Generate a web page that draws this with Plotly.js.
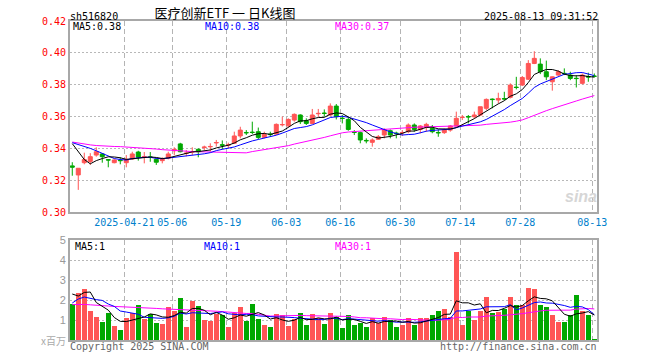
<!DOCTYPE html>
<html><head><meta charset="utf-8">
<script src="https://cdn.plot.ly/plotly-3.0.1.min.js"></script>
<style>html,body{margin:0;padding:0;background:#fff}#chart{width:660px;height:360px}</style>
</head><body><div id="chart"></div>
<script>
const dates = ['2025-04-08','2025-04-09','2025-04-10','2025-04-11','2025-04-14','2025-04-15','2025-04-16','2025-04-17','2025-04-18','2025-04-21','2025-04-22','2025-04-23','2025-04-24','2025-04-25','2025-04-28','2025-04-29','2025-04-30',
'2025-05-06','2025-05-07','2025-05-08','2025-05-09','2025-05-12','2025-05-13','2025-05-14','2025-05-15','2025-05-16','2025-05-19','2025-05-20','2025-05-21','2025-05-22','2025-05-23','2025-05-26','2025-05-27','2025-05-28','2025-05-29','2025-05-30',
'2025-06-03','2025-06-04','2025-06-05','2025-06-06','2025-06-09','2025-06-10','2025-06-11','2025-06-12','2025-06-13','2025-06-16','2025-06-17','2025-06-18','2025-06-19','2025-06-20','2025-06-23','2025-06-24','2025-06-25','2025-06-26','2025-06-27','2025-06-30',
'2025-07-01','2025-07-02','2025-07-03','2025-07-04','2025-07-07','2025-07-08','2025-07-09','2025-07-10','2025-07-11','2025-07-14','2025-07-15','2025-07-16','2025-07-17','2025-07-18','2025-07-21','2025-07-22','2025-07-23','2025-07-24','2025-07-25','2025-07-28','2025-07-29','2025-07-30','2025-07-31',
'2025-08-01','2025-08-04','2025-08-05','2025-08-06','2025-08-07','2025-08-08','2025-08-11','2025-08-12','2025-08-13'];

const openP = [.3290,.3233,.3310,.3318,.3358,.3365,.3329,.3310,.3325,.3310,
 .3333,.3377,.3344,.3346,.3331,.3323,.3338,.3385,.3428,.3368,
 .3377,.3394,.3405,.3410,.3434,.3423,.3420,.3432,.3478,.3500,
 .3502,.3505,.3469,.3490,.3490,.3548,.3542,.3578,.3610,.3574,
 .3557,.3618,.3622,.3610,.3666,.3590,.3582,.3502,.3499,.3450,
 .3438,.3457,.3484,.3511,.3496,.3498,.3505,.3547,.3519,.3532,
 .3526,.3500,.3499,.3515,.3541,.3594,.3600,.3599,.3610,.3652,
 .3710,.3704,.3713,.3721,.3785,.3798,.3835,.3934,.3930,.3882,
 .3819,.3861,.3872,.3861,.3841,.3809,.3851,.3855];
const highP = [.3313,.3275,.3373,.3370,.3407,.3370,.3333,.3331,.3344,.3358,
 .3379,.3385,.3377,.3377,.3338,.3344,.3379,.3407,.3435,.3390,
 .3407,.3400,.3417,.3432,.3453,.3450,.3436,.3505,.3536,.3515,
 .3568,.3531,.3505,.3505,.3557,.3600,.3589,.3620,.3614,.3589,
 .3648,.3648,.3645,.3683,.3679,.3610,.3599,.3515,.3505,.3463,
 .3463,.3484,.3526,.3519,.3505,.3515,.3557,.3557,.3547,.3561,
 .3547,.3519,.3526,.3547,.3631,.3610,.3610,.3631,.3662,.3714,
 .3714,.3750,.3756,.3809,.3850,.3855,.3955,.4011,.3966,.3952,
 .3852,.3892,.3903,.3882,.3861,.3871,.3876,.3871];
const lowP = [.3228,.3139,.3300,.3296,.3348,.3310,.3281,.3306,.3300,.3281,
 .3327,.3323,.3306,.3316,.3296,.3306,.3331,.3358,.3375,.3350,
 .3358,.3344,.3390,.3379,.3411,.3394,.3400,.3428,.3463,.3484,
 .3490,.3457,.3463,.3473,.3484,.3538,.3531,.3568,.3553,.3547,
 .3553,.3599,.3599,.3603,.3582,.3557,.3511,.3484,.3432,.3432,
 .3411,.3453,.3463,.3463,.3463,.3478,.3495,.3505,.3495,.3505,
 .3495,.3473,.3491,.3505,.3532,.3578,.3557,.3589,.3604,.3641,
 .3652,.3683,.3704,.3714,.3771,.3792,.3830,.3930,.3867,.3829,
 .3763,.3857,.3861,.3829,.3783,.3802,.3819,.3846];
const closeP = [.3282,.3275,.3330,.3348,.3379,.3348,.3327,.3327,.3323,.3331,
 .3365,.3344,.3348,.3344,.3313,.3331,.3365,.3394,.3379,.3370,
 .3380,.3379,.3408,.3412,.3437,.3420,.3422,.3478,.3515,.3498,
 .3500,.3469,.3488,.3487,.3551,.3550,.3582,.3614,.3568,.3557,
 .3610,.3620,.3620,.3666,.3599,.3588,.3519,.3500,.3453,.3448,
 .3453,.3473,.3519,.3484,.3494,.3500,.3547,.3519,.3541,.3551,
 .3505,.3498,.3515,.3541,.3589,.3596,.3598,.3610,.3662,.3708,
 .3707,.3714,.3711,.3798,.3783,.3846,.3934,.3966,.3882,.3850,
 .3850,.3882,.3870,.3840,.3839,.3861,.3849,.3853];

const ma5 = [.3430,.3380,.3330,.3303,.3323,.3336,.3347,.3346,.3341,.3331,.3335,.3338,.3342,.3346,.3343,.3336,.3340,.3349,.3356,.3368,.3378,.3380,.3383,.3390,.3403,.3411,.3420,.3434,.3454,.3467,.3483,.3492,.3494,.3488,.3499,.3509,.3532,.3557,.3573,.3574,.3586,.3594,.3595,.3615,.3623,.3619,.3598,.3574,.3532,.3502,.3475,.3465,.3469,.3475,.3485,.3494,.3509,.3509,.3520,.3532,.3533,.3523,.3522,.3522,.3530,.3548,.3568,.3587,.3611,.3635,.3657,.3680,.3700,.3728,.3743,.3770,.3814,.3865,.3882,.3896,.3896,.3886,.3867,.3858,.3856,.3858,.3852,.3848];
const ma10 = [.3436,.3425,.3412,.3400,.3385,.3368,.3350,.3336,.3330,.3327,.3336,.3342,.3344,.3344,.3337,.3335,.3339,.3346,.3351,.3355,.3357,.3360,.3366,.3373,.3386,.3394,.3400,.3409,.3422,.3435,.3447,.3456,.3464,.3471,.3483,.3496,.3512,.3525,.3531,.3537,.3548,.3563,.3576,.3594,.3599,.3602,.3596,.3585,.3573,.3562,.3547,.3532,.3522,.3504,.3493,.3484,.3487,.3489,.3498,.3508,.3513,.3516,.3515,.3521,.3531,.3540,.3545,.3554,.3567,.3582,.3602,.3624,.3644,.3669,.3689,.3714,.3747,.3783,.3805,.3819,.3833,.3850,.3866,.3870,.3876,.3877,.3869,.3858];
const ma30 = [.3440,.3433,.3427,.3422,.3418,.3415,.3413,.3412,.3411,.3409,.3408,.3406,.3404,.3400,.3396,.3392,.3389,.3386,.3384,.3382,.3380,.3379,.3378,.3377,.3376,.3375,.3374,.3373,.3372,
 .3372,.3380,.3386,.3392,.3396,.3402,.3409,.3417,.3427,.3435,.3442,.3450,.3460,.3469,.3479,.3489,.3498,.3503,.3506,.3509,.3511,.3514,.3517,.3521,.3523,.3525,.3528,.3532,.3533,.3534,.3536,.3536,.3537,.3538,.3540,.3541,.3542,.3543,.3543,.3546,.3551,.3554,.3557,.3560,.3565,.3571,.3579,.3593,.3609,.3623,.3637,.3650,.3663,.3675,.3687,.3698,.3710,.3721,.3732];

const volume = [1.80,2.37,2.57,1.47,1.17,0.90,1.37,0.72,0.50,1.12,
 1.33,1.75,1.05,1.28,0.87,0.82,1.67,1.47,2.10,0.67,
 1.97,1.70,1.00,0.97,1.28,1.27,0.67,1.37,1.67,0.97,
 1.80,1.05,0.77,0.65,1.30,1.25,0.70,1.05,1.35,0.75,
 1.30,1.08,0.80,1.35,1.17,0.62,1.25,0.75,0.87,0.65,
 1.08,0.87,1.15,1.00,0.65,0.75,1.08,0.75,1.08,1.08,
 1.25,1.45,1.55,1.15,4.40,0.75,1.45,1.00,1.45,2.15,
 1.35,1.42,1.55,2.15,1.75,1.75,2.60,2.55,1.75,1.65,
 1.25,0.90,0.90,1.25,2.25,1.45,1.25,0.05];
const volMa5 = [2.30,2.20,2.38,2.40,1.876,1.696,1.496,1.126,0.932,0.922,1.008,1.084,1.15,1.306,1.256,1.154,1.138,1.222,1.386,1.346,1.576,1.582,1.488,1.262,1.384,1.244,1.038,1.112,1.252,1.19,1.296,1.372,1.252,1.048,1.114,1.004,0.934,0.99,1.13,1.02,1.03,1.106,1.056,1.056,1.14,1.004,1.038,1.028,0.932,0.828,0.92,0.844,0.924,0.95,0.95,0.884,0.926,0.846,0.862,0.948,1.048,1.122,1.282,1.296,1.96,1.86,1.86,1.75,1.81,1.36,1.48,1.474,1.584,1.724,1.644,1.724,1.96,2.16,2.08,2.06,1.96,1.62,1.29,1.19,1.31,1.35,1.42,1.25];
const volMa10 = [1.85,2.05,2.15,2.08,2.02,1.98,1.80,1.68,1.45,1.399,1.352,1.29,1.138,1.119,1.089,1.081,1.111,1.186,1.346,1.301,1.365,1.36,1.355,1.324,1.365,1.41,1.31,1.30,1.257,1.287,1.27,1.205,1.182,1.15,1.152,1.15,1.153,1.121,1.089,1.067,1.017,1.02,1.023,1.093,1.08,1.017,1.072,1.042,0.994,0.984,0.962,0.941,0.976,0.941,0.889,0.902,0.885,0.885,0.906,0.949,0.966,1.024,1.064,1.079,1.454,1.454,1.491,1.516,1.553,1.66,1.67,1.667,1.667,1.767,1.502,1.602,1.717,1.872,1.902,1.852,1.842,1.79,1.725,1.635,1.685,1.655,1.52,1.27];
const volMa30 = [1.77,1.78,1.78,1.76,1.73,1.71,1.70,1.68,1.67,1.66,1.64,1.62,1.61,1.60,1.58,1.56,1.55,1.54,1.53,1.52,1.51,1.48,1.47,1.46,1.44,1.42,1.39,1.37,1.35,
 1.329,1.329,1.285,1.225,1.198,1.202,1.214,1.191,1.202,1.231,1.218,1.217,1.195,1.187,1.189,1.199,1.192,1.178,1.154,1.113,1.113,1.083,1.055,1.060,1.061,1.040,1.023,1.037,1.016,0.996,1.000,0.982,0.995,1.021,1.038,1.141,1.124,1.149,1.148,1.151,1.198,1.199,1.211,1.236,1.262,1.282,1.319,1.364,1.424,1.454,1.487,1.493,1.494,1.485,1.494,1.547,1.570,1.576,1.553];

const tickDates = ['2025-04-21','2025-05-06','2025-05-19','2025-06-03','2025-06-16','2025-06-30','2025-07-14','2025-07-28','2025-08-13'];
const tickLabels = ['2025-04-21','05-06','05-19','06-03','06-16','06-30','07-14','07-28','08-13'];
const priceTicks = [0.30,0.32,0.34,0.36,0.38,0.40,0.42];
const volTicks = [1,2,3,4,5];
const priceMaLabels = ['MA5:0.38','MA10:0.38','MA30:0.37'];
const volMaLabels = ['MA5:1','MA10:1','MA30:1'];

const UP = '#ff5555', DOWN = '#00a800';
const x = dates.map((d, i) => i);
const tickvals = tickDates.map(d => dates.indexOf(d) - 0.33);
const volColors = closeP.map((c, i) => c >= openP[i] ? UP : DOWN);

const L = 70, R = 597, T = 21, B = 340;
const W = R - L, H = B - T;
const px = v => (v - L) / W;
const py = v => (B - v) / H;
const MONO = 'DejaVu Sans Mono';

const traces = [
  {type:'candlestick', x:x, open:openP, high:highP, low:lowP, close:closeP, xaxis:'x', yaxis:'y',
   increasing:{line:{color:UP, width:1}, fillcolor:UP},
   decreasing:{line:{color:DOWN, width:1}, fillcolor:DOWN},
   whiskerwidth:0, hoverinfo:'skip'},
  {type:'scatter', mode:'lines', x:x, y:ma30, xaxis:'x', yaxis:'y', line:{color:'#ff00ff', width:1}},
  {type:'scatter', mode:'lines', x:x, y:ma10, xaxis:'x', yaxis:'y', line:{color:'#0000ff', width:1}},
  {type:'scatter', mode:'lines', x:x, y:ma5, xaxis:'x', yaxis:'y', line:{color:'#000000', width:1}},
  {type:'bar', x:x, y:volume, xaxis:'x2', yaxis:'y2', width:0.83, marker:{color:volColors, line:{width:0}}},
  {type:'scatter', mode:'lines', x:x, y:volMa30, xaxis:'x2', yaxis:'y2', line:{color:'#ff00ff', width:1}},
  {type:'scatter', mode:'lines', x:x, y:volMa10, xaxis:'x2', yaxis:'y2', line:{color:'#0000ff', width:1}},
  {type:'scatter', mode:'lines', x:x, y:volMa5, xaxis:'x2', yaxis:'y2', line:{color:'#000000', width:1}}
];

const xRange = [-0.38, 87.45];
const commonX = {type:'linear', range:xRange, tickmode:'array', tickvals:tickvals, showgrid:true,
  gridcolor:'#b4b4b4', gridwidth:1, griddash:'5px,3px', showline:true, mirror:true,
  linecolor:'#a8a8a8', linewidth:2, ticks:'', zeroline:false, fixedrange:true};
const commonY = {type:'linear', tickmode:'array', showgrid:true, gridcolor:'#b8b8b8', gridwidth:1,
  griddash:'2px,2px', showline:true, mirror:true, linecolor:'#a8a8a8', linewidth:2, ticks:'',
  zeroline:false, fixedrange:true};

const ann = (text, xp, yp, xanchor, color, font, size) => ({
  text:text, x:px(xp), y:py(yp), xref:'paper', yref:'paper', xanchor:xanchor, yanchor:'middle',
  showarrow:false, font:{family:font || MONO, size:size || 10, color:color}
});

const layout = {
  width:660, height:360,
  margin:{l:70, r:63, t:21, b:20, pad:0},
  paper_bgcolor:'#ffffff', plot_bgcolor:'#ffffff',
  showlegend:false, hovermode:false, dragmode:false,
  boxgap:0.2, boxgroupgap:0.17, bargap:0,
  title:{text:'医疗创新ETF 一 日K线图', xref:'container', yref:'container', x:225/660, xanchor:'center',
    y:1 - 13.5/360, yanchor:'middle', font:{family:'Noto Sans CJK SC', size:13, color:'#000000'}},
  xaxis:Object.assign({}, commonX, {domain:[0,1], anchor:'y', rangeslider:{visible:false},
    ticktext:tickLabels, showticklabels:true, tickfont:{family:MONO, size:10, color:'#0080cc'}}),
  xaxis2:Object.assign({}, commonX, {domain:[0,1], anchor:'y2', showticklabels:false}),
  yaxis:Object.assign({}, commonY, {domain:[(B - 212) / H, 1], anchor:'x', range:[0.30, 0.4201],
    tickvals:priceTicks, ticktext:priceTicks.map(v => v.toFixed(2)),
    tickfont:{family:MONO, size:10, color:'#ff0000'}}),
  yaxis2:Object.assign({}, commonY, {domain:[0, (B - 240) / H], anchor:'x2', range:[0, 5.003],
    tickvals:volTicks, ticktext:volTicks.map(String),
    tickfont:{family:'Liberation Sans', size:11, color:'#999999'}}),
  annotations:[
    ann('<b><i>sina</i></b>', 581, 196, 'center', '#d6d6d6', 'Liberation Sans', 16),
    ann('sh516820', 68, 17, 'left', '#000000'),
    ann('2025-08-13 09:31:52', 600, 17, 'right', '#000000'),
    ann(priceMaLabels[0], 71, 27, 'left', '#000000'),
    ann(priceMaLabels[1], 203, 27, 'left', '#0000ff'),
    ann(priceMaLabels[2], 333, 27, 'left', '#ff00ff'),
    ann(volMaLabels[0], 73, 246.5, 'left', '#000000'),
    ann(volMaLabels[1], 202, 246.5, 'left', '#0000ff'),
    ann(volMaLabels[2], 333, 246.5, 'left', '#ff00ff'),
    ann('Copyright 2025 SINA.COM', 68, 346, 'left', '#666666'),
    ann('http://finance.sina.com.cn', 599, 346, 'right', '#666666'),
    ann('x百万', 68, 340.5, 'right', '#aaaaaa', 'Noto Sans CJK SC', 10)
  ]
};

Plotly.newPlot('chart', traces, layout, {displayModeBar:false, staticPlot:true});
</script></body></html>
